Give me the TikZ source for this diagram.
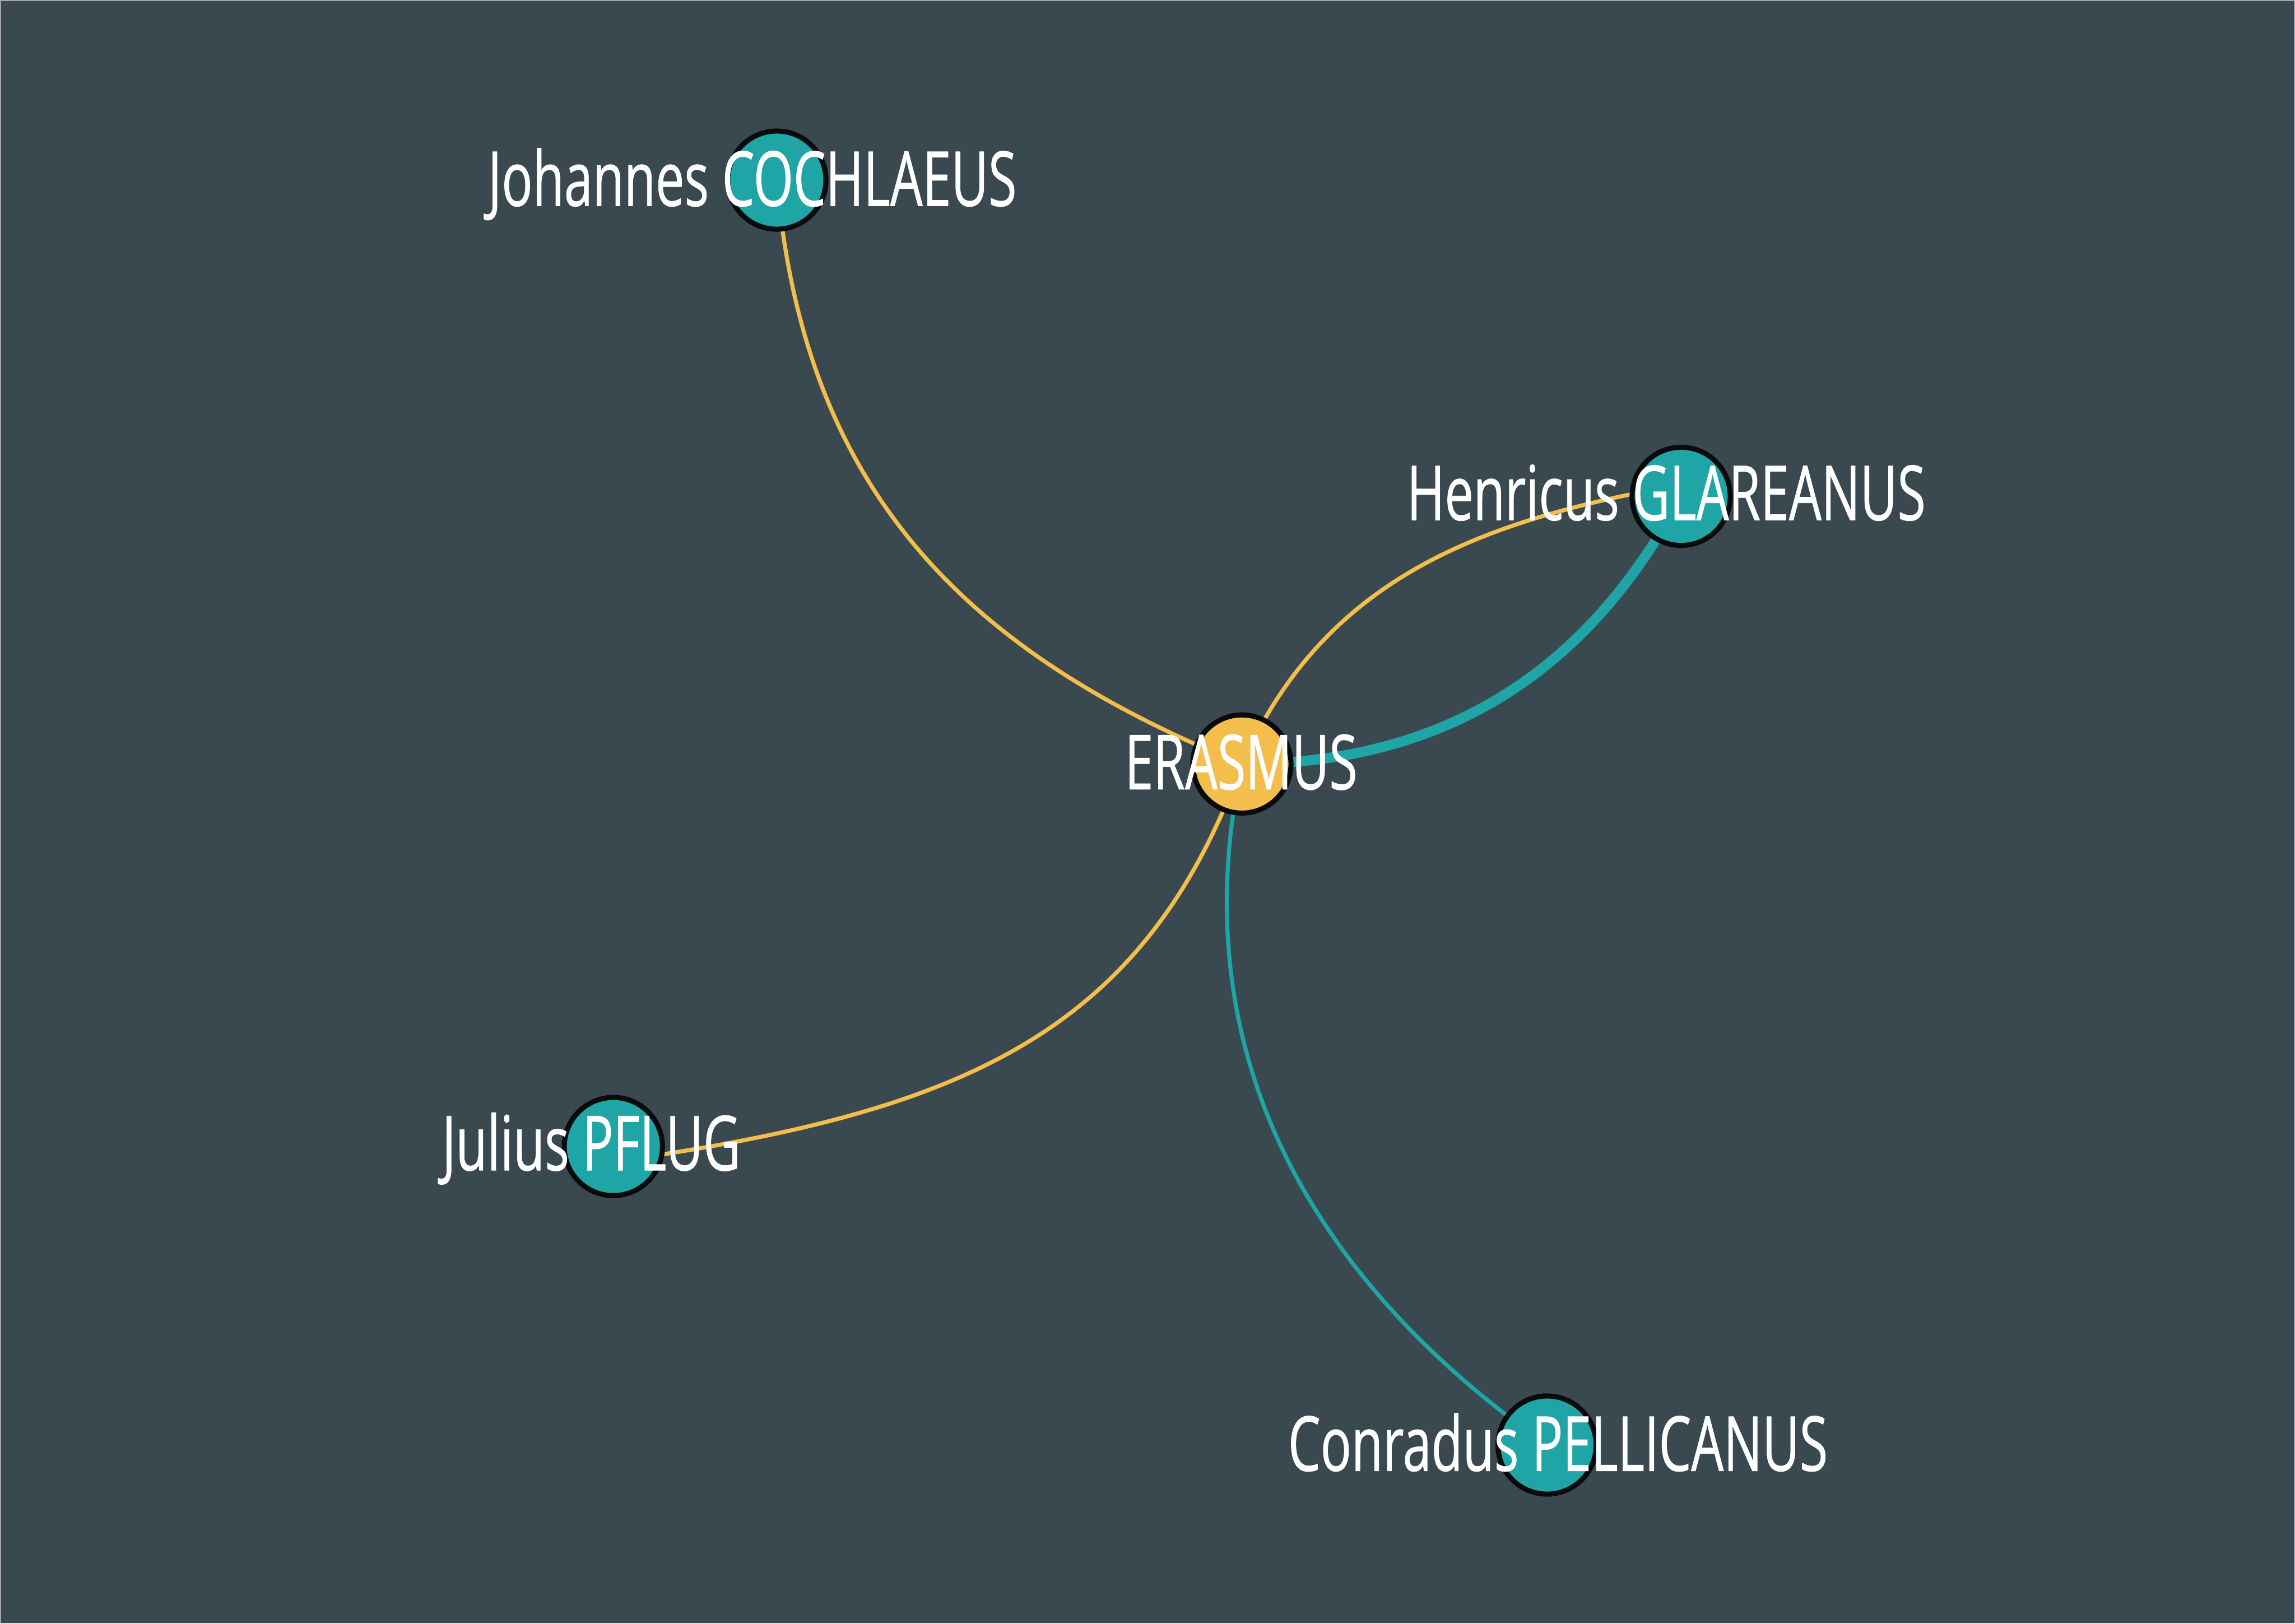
\documentclass[tikz,border=0pt]{standalone}
\usepackage{fontspec}
\setmainfont[FakeStretch=0.675,FakeBold=0.6]{Open Sans}
\usepackage{tikz}
\usetikzlibrary{positioning}
\definecolor{Cbg}{RGB}{58,72,80}
\definecolor{Ct}{RGB}{31,165,165}
\definecolor{Cy}{RGB}{244,190,76}
\definecolor{Ck}{RGB}{8,10,12}
\pgfdeclarelayer{bg}
\pgfdeclarelayer{edges}
\pgfsetlayers{bg,edges,main}

\begin{document}
\begin{tikzpicture}[
    person/.style={circle,draw=Ck,line width=0.1cm,fill=Ct,minimum size=1.94cm,inner sep=0pt},
    lbl/.style={text=white,font=\fontsize{42.7}{44}\selectfont,anchor=base,inner sep=0pt},
    thin link/.style={line width=0.08cm},
    thick link/.style={line width=0.2cm}]
  \useasboundingbox (0,0) rectangle (45.35,32.09);
  \begin{pgfonlayer}{bg}
    \fill[Cbg] (0,0) rectangle (45.35,32.09);
    \draw[gray!70,line width=0.02cm] (0.01,0.01) rectangle (45.34,32.08);
  \end{pgfonlayer}
  \node[person,fill=Cy] (erasmus) at (24.54,16.99) {};
  \node[person] (cochlaeus) at (15.35,28.53) {};
  \node[person] (glareanus) at (33.22,22.28) {};
  \node[person] (pflug) at (12.12,9.43) {};
  \node[person] (pellicanus) at (30.57,3.53) {};
  \begin{pgfonlayer}{edges}
    \draw[Cy,thin link] (cochlaeus.center) to[out=-85,in=158,looseness=1.05] (erasmus.center);
    \draw[Cy,thin link] (erasmus.center) to[out=66,in=190] ([yshift=0.23cm]glareanus.center);
    \draw[Ct,thick link] (erasmus.center) to[out=0,in=242] (glareanus.center);
    \draw[Cy,thin link] (erasmus.center) to[out=250,in=8,in looseness=1.2] ([yshift=-0.3cm]pflug.center);
    \draw[Ct,thin link] (erasmus.center) to[out=258,in=145] (pellicanus.center);
  \end{pgfonlayer}
  \node[lbl] (erasmusL) at ([xshift=-0.015cm,yshift=-0.5cm]erasmus.center) {ERASMUS};
  \node[lbl] (cochlaeusL) at ([xshift=-0.485cm,yshift=-0.51cm]cochlaeus.center) {Johannes COCHLAEUS};
  \node[lbl] (glareanusL) at ([xshift=-0.295cm,yshift=-0.47cm]glareanus.center) {Henricus GLAREANUS};
  \node[lbl] (pflugL) at ([xshift=-0.435cm,yshift=-0.47cm]pflug.center) {Julius PFLUG};
  \node[lbl] (pellicanusL) at ([xshift=0.215cm,yshift=-0.51cm]pellicanus.center) {Conradus PELLICANUS};
\end{tikzpicture}
\end{document}
